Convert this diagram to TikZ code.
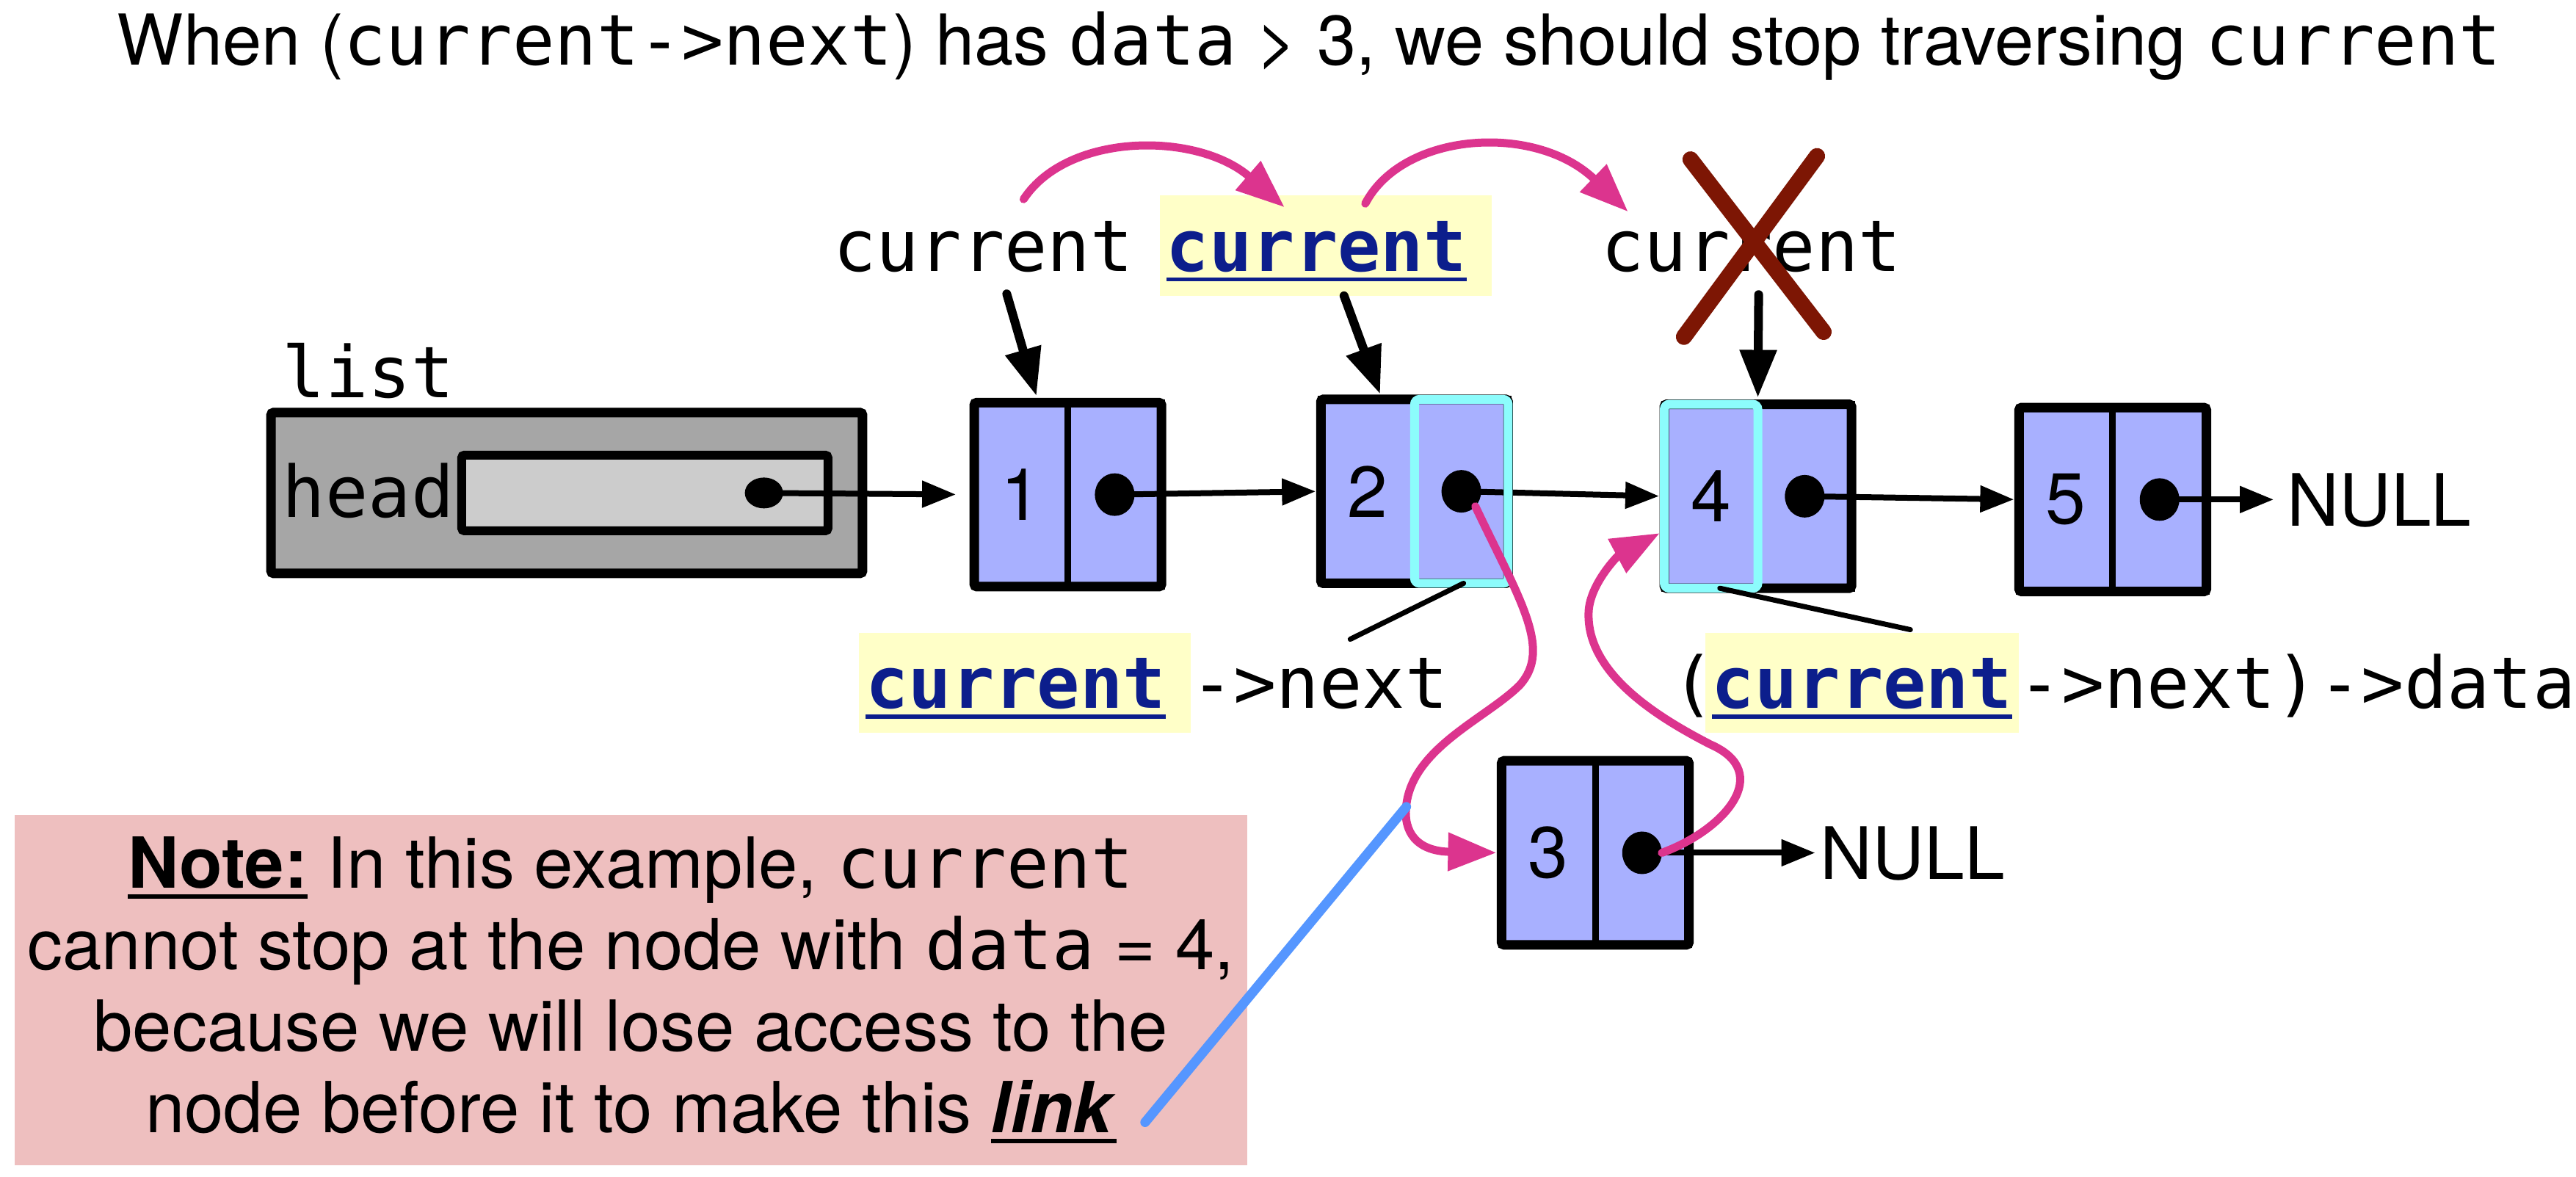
\documentclass[tikz,border=0pt]{standalone}
\usepackage{fontspec}
\setmainfont{TeX Gyre Heros}
\setmonofont{DejaVu Sans Mono}
\usepackage{tikz}
\usetikzlibrary{positioning,arrows.meta,shapes.geometric}
\usepackage{xcolor}

\definecolor{cellblue}{RGB}{168,176,255}
\definecolor{hlcyan}{RGB}{140,252,252}
\definecolor{hlyellow}{RGB}{255,255,200}
\definecolor{codeblue}{RGB}{12,30,140}
\definecolor{linkpink}{RGB}{220,52,142}
\definecolor{crossred}{RGB}{125,22,4}
\definecolor{notepink}{RGB}{238,191,191}
\definecolor{pointblue}{RGB}{85,150,255}
\definecolor{structgray}{RGB}{166,166,166}
\definecolor{fieldgray}{RGB}{204,204,204}

\newsavebox{\ulinebox}
\newcommand{\ulined}[2][black]{\sbox{\ulinebox}{#2}\rlap{\color{#1}\rule[-0.14cm]{\wd\ulinebox}{0.055cm}}\usebox{\ulinebox}}
\newcommand{\curvar}{\ulined[codeblue]{\textcolor{codeblue}{\bfseries current}}}

\begin{document}
\begin{tikzpicture}[
      x=0.02238cm, y=-0.02238cm,
      every node/.style={font=\fontsize{28pt}{31.6pt}\selectfont, inner sep=0pt, outer sep=0pt},
      code/.style={font=\fontsize{27.6pt}{31.6pt}\selectfont\ttfamily},
      slot/.style={draw, line width=0.13cm, rounded corners=1pt},
      cell/.style={draw, line width=0.09cm, fill=cellblue, minimum width=1.276cm, minimum height=2.507cm},
      cellframe/.style={line width=0.13cm, rounded corners=1pt},
      glow/.style={draw=hlcyan, line width=0.12cm, rounded corners=2pt},
      ptrdot/.style={ellipse, fill, minimum width=0.54cm, minimum height=0.58cm},
      hl/.style={fill=hlyellow, inner xsep=0.09cm, text height=1.03cm, text depth=0.336cm},
      arr/.style={-{Triangle[length=0.46cm, width=0.35cm]}, line width=0.08cm, shorten >=0.07cm},
      ptr/.style={-{Triangle[length=0.65cm, width=0.48cm]}, line width=0.12cm, line cap=round},
      relink/.style={-{Triangle[length=0.66cm, width=0.5cm]}, draw=linkpink, line width=0.11cm, line cap=round},
      callout/.style={line width=0.07cm, line cap=round},
      strike/.style={draw=crossred, line width=0.22cm, line cap=round}
    ]
    \useasboundingbox (0,0) rectangle (1568,716);

    \node[anchor=base, font=\fontsize{27.2pt}{30pt}\selectfont] (title) at (797,39.5)
      {When (\texttt{current->next}) has \texttt{data} > 3, we should stop traversing \texttt{current}};

    % the list struct
    \node[slot, fill=structgray, minimum width=8.06cm, minimum height=2.19cm] (list) at (345,300) {};
    \node[slot, line width=0.12cm, fill=fieldgray, minimum width=4.99cm, minimum height=1.03cm] (head) at (392.5,300) {};
    \node[code, anchor=base west] (listlbl) at (172,242) {list};
    \node[code, anchor=base west] (headlbl) at (172,315) {head};
    \node[ptrdot, minimum width=0.52cm, minimum height=0.42cm] (headdot) at (465,300) {};

    % list nodes
    \node[cell] (n1d) at (621.5,301) {1};
    \node[cell, right=0pt of n1d] (n1p) {};
    \node[cell] (n2d) at (832.5,299) {2};
    \node[cell, right=0pt of n2d] (n2p) {};
    \node[cell] (n4d) at (1041.5,302) {4};
    \node[cell, right=0pt of n4d] (n4p) {};
    \node[cell] (n5d) at (1257.5,304) {5};
    \node[cell, right=0pt of n5d] (n5p) {};
    \node[cell] (n3d) at (942.5,519) {3};
    \node[cell, right=0pt of n3d] (n3p) {};
    \foreach \n in {n1,n2,n3,n4,n5} {
      \draw[cellframe] (\n d.south west) rectangle (\n p.north east);
      \node[ptrdot] (\n dot) at (\n p) {};
    }
    \node[anchor=base west] (null5) at (1392,320) {NULL};
    \node[anchor=base west] (null3) at (1108,535) {NULL};

    \draw[arr, shorten >=0.25cm] (headdot.center) -- (n1d.west);
    \draw[arr] (n1dot.center) -- (n2d.west);
    \draw[arr] (n2dot.center) -- (n4d.west);
    \draw[arr] (n4dot.center) -- (n5d.west);
    \draw[arr, shorten >=0.18cm] (n5dot.center) -- (n5dot -| null5.west);
    \draw[arr] (n3dot.center) -- (n3dot -| null3.west);

    \draw[glow] (n2p.south west) rectangle (n2p.north east);
    \draw[glow] (n4d.south west) rectangle (n4d.north east);

    % labels above
    \node[code, anchor=base] (cur1) at (598.5,165) {current};
    \node[code, hl, anchor=base west] (cur2) at (706,165) {\curvar\kern0.25cm};
    \node[code, anchor=base] (cur3) at (1066,165) {current};
    \draw[strike] (1029,97) -- (1110,202);
    \draw[strike] (1106,95) -- (1025,205);

    \draw[ptr] ([xshift=0.32cm,yshift=-0.31cm]cur1.base) -- ([xshift=0.21cm,yshift=0.09cm]n1d.north);
    \draw[ptr] ([xshift=0.25cm]cur2.south) -- ([xshift=0.17cm,yshift=0.07cm]n2d.north);
    \draw[ptr] ([xshift=0.1cm,yshift=-0.32cm]cur3.base) -- ([yshift=0.09cm]n4d.north east);

    \draw[relink] ([xshift=0.55cm,yshift=0.98cm]cur1.base) .. controls +(27,-41) and +(-53,-46)
      .. ([xshift=-0.56cm,yshift=0.87cm]cur2.base);
    \draw[relink] ([xshift=0.54cm,yshift=0.92cm]cur2.base) .. controls +(23,-44) and +(-56,-54)
      .. ([xshift=-1.68cm,yshift=0.81cm]cur3.base);

    % labels below
    \node[code, hl, anchor=base west] (nxcur) at (523,431) {\curvar\kern0.25cm};
    \node[code, anchor=base west] (nx1) at (nxcur.base east) {->next};
    \node[code, hl, anchor=base west] (dtcur) at (1038,431) {\curvar};
    \node[code, anchor=base east] (paren) at ([xshift=0.13cm]dtcur.base west) {(};
    \node[code, anchor=base west] (dt1) at (dtcur.base east) {->next)->data};

    \draw[callout] ([xshift=0.03cm]n2p.south) -- ([xshift=0.42cm,yshift=0.94cm]nx1.base);
    \draw[callout] ([xshift=0.12cm]n4d.south) -- ([xshift=0.66cm,yshift=1.07cm]dtcur.base);

    % relinking node 3
    \draw[relink, shorten >=0.07cm] (n2dot.south east) .. controls (925,365) and (945,395) .. (925,417)
      .. controls (905,437) and (860,455) .. (856,490)
      .. controls (854,506) and (862,518) .. (n3d.west);
    \draw[relink, shorten >=0.07cm] (n3dot.east) .. controls (1050,505) and (1080,470) .. (1041,453)
      .. controls (1010,437) and (965,410) .. (967,372)
      .. controls (968,355) and (985,338) .. ([yshift=-0.47cm]n4d.west);

    % note
    \node[fill=notepink, minimum width=16.79cm, minimum height=4.77cm, align=center,
          font=\fontsize{27.3pt}{31.6pt}\selectfont] (note) at (384,602.5)
      {\ulined{\textbf{Note:}} In this example, \texttt{current}\\
       cannot stop at the node with \texttt{data} = 4,\\
       because we will lose access to the\\
       node before it to make this \ulined{\textbf{\textit{link}}}};
    \coordinate (linkpt) at (856,491);
    \coordinate (linkend) at (697,683);
    \draw[draw=pointblue, line width=0.13cm, line cap=round] (linkend) -- (linkpt);
\end{tikzpicture}
\end{document}
